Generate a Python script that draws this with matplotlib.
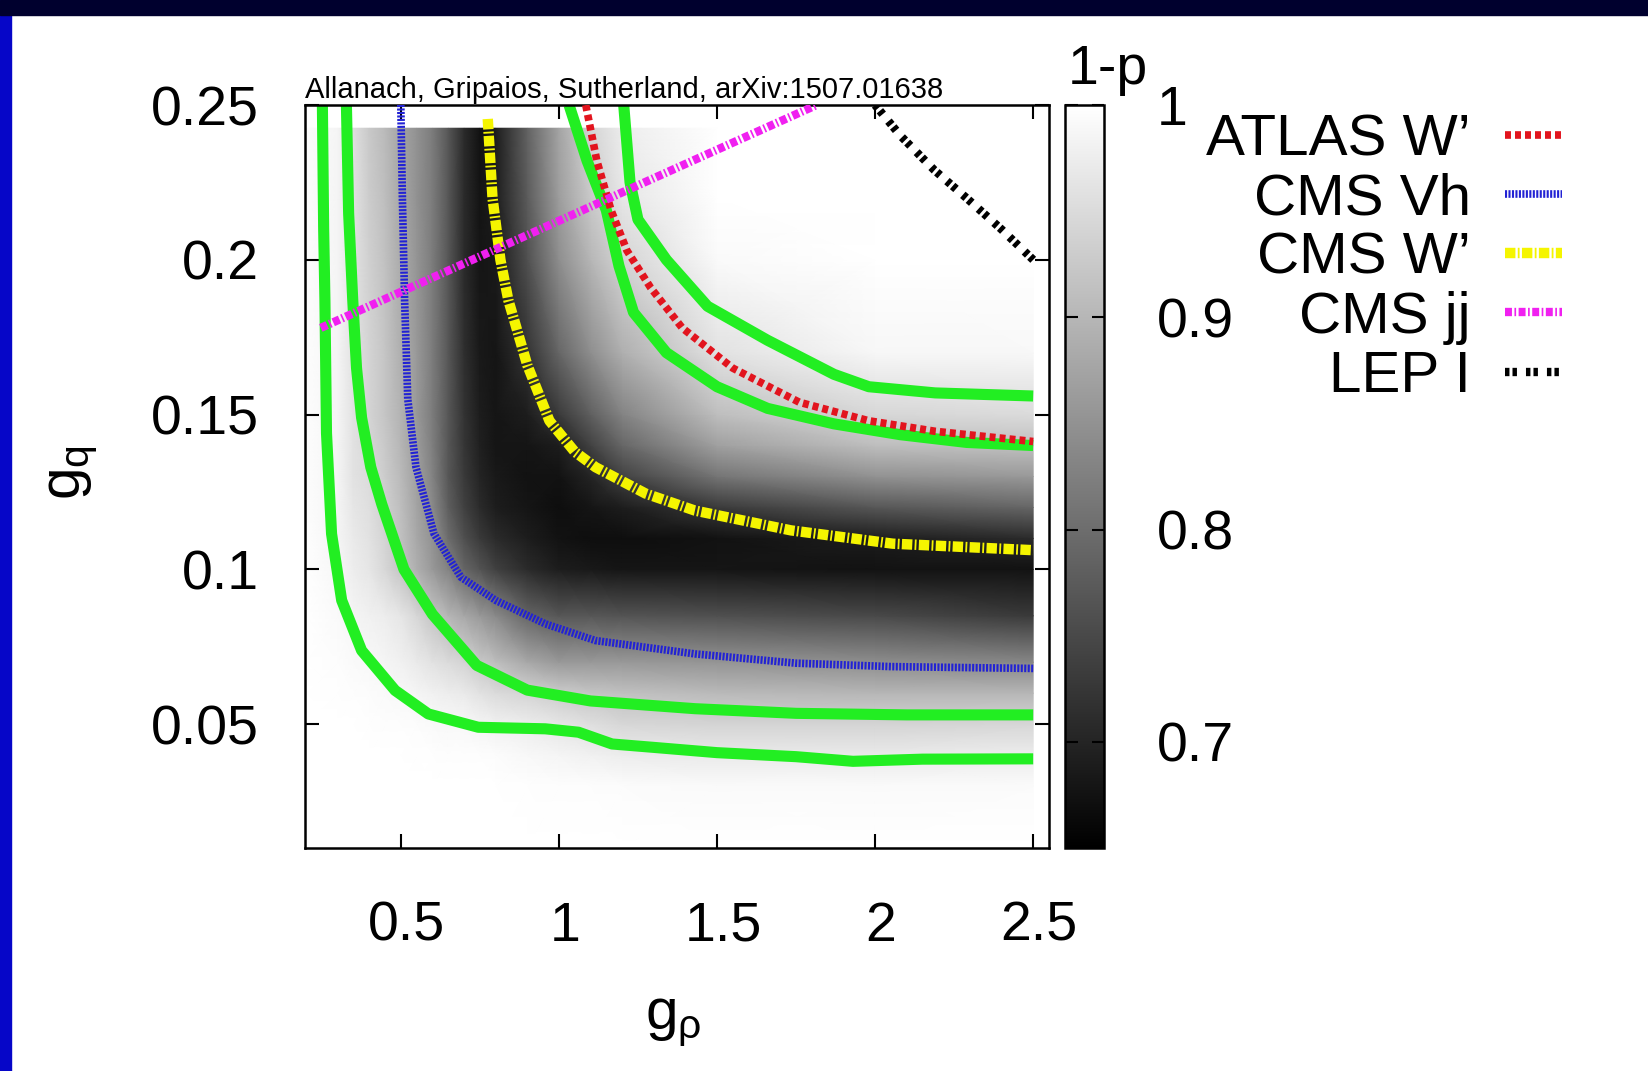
import numpy as np
import matplotlib
matplotlib.use('Agg')
import matplotlib.pyplot as plt
from matplotlib.patches import Rectangle
import matplotlib.transforms as mtransforms

plt.rcParams['font.family'] = ['Liberation Sans', 'DejaVu Sans']
plt.rcParams['mathtext.fontset'] = 'custom'
plt.rcParams['mathtext.rm'] = 'Liberation Sans'
plt.rcParams['mathtext.it'] = 'Liberation Sans'
plt.rcParams['mathtext.bf'] = 'Liberation Sans'
plt.rcParams['lines.scale_dashes'] = False

# ---------------- data ----------------
# grid of 1-p values, columns at grid_x, rows at grid_y
grid_x = [0.2, 0.3, 0.35, 0.4, 0.45, 0.5, 0.55, 0.6, 0.65, 0.7, 0.75, 0.8, 0.9, 1.0, 1.1, 1.2, 1.5, 2.0, 2.5]
grid_y = [0.01, 0.03, 0.04, 0.05, 0.06, 0.07, 0.085, 0.1, 0.11, 0.12, 0.13, 0.14, 0.15, 0.17, 0.2, 0.22, 0.2425]
one_minus_p_columns = [
    [1, 1, 1, 1, 1, 1, 0.999, 0.998, 0.998, 0.997, 0.997, 0.997, 0.997, 0.997, 0.997, 0.997, 0.997],
    [1, 1, 1, 0.999, 0.998, 0.996, 0.993, 0.988, 0.986, 0.985, 0.985, 0.985, 0.985, 0.985, 0.985, 0.985, 0.985],
    [1, 1, 1, 0.999, 0.997, 0.993, 0.985, 0.975, 0.97, 0.965, 0.96, 0.96, 0.96, 0.96, 0.96, 0.96, 0.955],
    [1, 1, 1, 0.998, 0.995, 0.99, 0.98, 0.965, 0.96, 0.955, 0.95, 0.945, 0.94, 0.94, 0.935, 0.93, 0.925],
    [1, 1, 0.999, 0.997, 0.993, 0.985, 0.975, 0.945, 0.94, 0.935, 0.93, 0.925, 0.92, 0.92, 0.915, 0.91, 0.905],
    [1, 1, 0.999, 0.996, 0.99, 0.98, 0.965, 0.92, 0.915, 0.91, 0.905, 0.9, 0.895, 0.89, 0.885, 0.88, 0.875],
    [1, 1, 0.998, 0.995, 0.985, 0.97, 0.945, 0.89, 0.88, 0.875, 0.87, 0.865, 0.86, 0.86, 0.855, 0.85, 0.85],
    [1, 1, 0.998, 0.993, 0.98, 0.96, 0.92, 0.86, 0.85, 0.84, 0.83, 0.825, 0.82, 0.82, 0.82, 0.82, 0.82],
    [1, 1, 0.997, 0.99, 0.975, 0.95, 0.9, 0.83, 0.8, 0.78, 0.77, 0.77, 0.77, 0.77, 0.77, 0.77, 0.77],
    [1, 1, 0.997, 0.99, 0.97, 0.94, 0.88, 0.79, 0.76, 0.74, 0.73, 0.725, 0.72, 0.715, 0.71, 0.71, 0.71],
    [1, 1, 0.996, 0.985, 0.96, 0.925, 0.86, 0.765, 0.73, 0.71, 0.7, 0.695, 0.69, 0.685, 0.68, 0.678, 0.675],
    [1, 1, 0.995, 0.98, 0.95, 0.91, 0.84, 0.74, 0.71, 0.69, 0.685, 0.68, 0.68, 0.68, 0.685, 0.69, 0.69],
    [1, 0.998, 0.99, 0.975, 0.94, 0.88, 0.79, 0.71, 0.69, 0.68, 0.675, 0.68, 0.69, 0.72, 0.76, 0.775, 0.785],
    [1, 0.997, 0.985, 0.965, 0.93, 0.86, 0.77, 0.69, 0.675, 0.67, 0.675, 0.69, 0.73, 0.79, 0.845, 0.865, 0.875],
    [1, 0.996, 0.98, 0.955, 0.92, 0.86, 0.77, 0.685, 0.67, 0.68, 0.7, 0.74, 0.78, 0.845, 0.9, 0.925, 0.94],
    [1, 0.995, 0.975, 0.945, 0.915, 0.86, 0.765, 0.68, 0.67, 0.69, 0.74, 0.79, 0.83, 0.89, 0.94, 0.965, 0.975],
    [1, 0.993, 0.97, 0.94, 0.905, 0.855, 0.76, 0.68, 0.675, 0.73, 0.81, 0.87, 0.91, 0.96, 0.993, 0.999, 1.0],
    [1, 0.993, 0.97, 0.94, 0.9, 0.845, 0.75, 0.675, 0.69, 0.77, 0.85, 0.91, 0.945, 0.988, 1.0, 1.0, 1.0],
    [1, 0.994, 0.975, 0.945, 0.9, 0.835, 0.73, 0.675, 0.71, 0.79, 0.86, 0.915, 0.95, 0.99, 1.0, 1.0, 1.0],
]

# contours (green)
green_low_outer_x = [0.252, 0.256, 0.26, 0.265, 0.281, 0.313, 0.376, 0.482, 0.587, 0.745, 0.957, 1.062, 1.168, 1.3, 1.5, 1.75, 1.93, 2.15, 2.5]
green_low_outer_y = [0.25, 0.21, 0.187, 0.144, 0.1115, 0.09, 0.0738, 0.0609, 0.0533, 0.049, 0.0485, 0.0474, 0.0436, 0.0425, 0.0408, 0.0395, 0.038, 0.0387, 0.0388]
green_low_inner_x = [0.328, 0.335, 0.348, 0.36, 0.376, 0.405, 0.44, 0.51, 0.6, 0.74, 0.9, 1.1, 1.43, 1.75, 2.1, 2.5]
green_low_inner_y = [0.25, 0.215, 0.187, 0.165, 0.149, 0.133, 0.121, 0.1, 0.0855, 0.069, 0.061, 0.0575, 0.055, 0.0535, 0.053, 0.053]
green_up_inner_x = [1.032, 1.089, 1.15, 1.19, 1.236, 1.34, 1.5, 1.66, 1.87, 2.08, 2.29, 2.5]
green_up_inner_y = [0.25, 0.232, 0.216, 0.198, 0.183, 0.17, 0.159, 0.152, 0.147, 0.1435, 0.141, 0.14]
green_up_outer_x = [1.205, 1.225, 1.25, 1.34, 1.47, 1.66, 1.87, 1.98, 2.19, 2.5]
green_up_outer_y = [0.25, 0.225, 0.213, 0.2, 0.185, 0.174, 0.163, 0.159, 0.157, 0.156]

# limits
atlas_w_x = [1.085, 1.12, 1.165, 1.215, 1.29, 1.39, 1.55, 1.76, 1.98, 2.19, 2.5]
atlas_w_y = [0.25, 0.232, 0.216, 0.203, 0.191, 0.178, 0.165, 0.154, 0.148, 0.1446, 0.1413]
cms_vh_x = [0.5, 0.505, 0.512, 0.522, 0.548, 0.605, 0.69, 0.8, 0.957, 1.116, 1.43, 1.75, 2.05, 2.5]
cms_vh_y = [0.25, 0.22, 0.187, 0.155, 0.133, 0.1115, 0.0975, 0.09, 0.0824, 0.077, 0.0727, 0.0697, 0.0686, 0.068]
cms_w_x = [0.775, 0.79, 0.815, 0.84, 0.9, 0.97, 1.05, 1.116, 1.274, 1.43, 1.734, 2.056, 2.5]
cms_w_y = [0.2455, 0.22, 0.2, 0.187, 0.166, 0.148, 0.138, 0.133, 0.1245, 0.119, 0.1126, 0.1083, 0.1062]
cms_jj_x = [0.247, 1.815]
cms_jj_y = [0.178, 0.25]
lep_x = [2.0, 2.081, 2.187, 2.293, 2.4, 2.5]
lep_y = [0.25, 0.24, 0.229, 0.2196, 0.2098, 0.2]

legend_labels = ["ATLAS W\u2019", "CMS Vh", "CMS W\u2019", "CMS jj", "LEP I"]
xticks = [0.5, 1.0, 1.5, 2.0, 2.5]
xtick_labels = ["0.5", "1", "1.5", "2", "2.5"]
yticks = [0.05, 0.1, 0.15, 0.2, 0.25]
ytick_labels = ["0.05", "0.1", "0.15", "0.2", "0.25"]
cbar_ticks = [0.7, 0.8, 0.9, 1.0]
cbar_tick_labels = ["0.7", "0.8", "0.9", "1"]
title_text = "Allanach, Gripaios, Sutherland, arXiv:1507.01638"

# ---------------- figure ----------------
W, H = 1649, 1071
fig = plt.figure(figsize=(W / 100, H / 100), dpi=100)
fig.patch.set_facecolor('white')
fig.patches.append(Rectangle((0, 0), 11 / W, 1, transform=fig.transFigure, color='#0606c8', zorder=-10))
fig.patches.append(Rectangle((0, 1 - 15 / H), 1, 15 / H, transform=fig.transFigure, color='#00002e', zorder=-9))

ax = fig.add_axes([305 / W, 1 - 848 / H, 744 / W, 743 / H])
X, Y = np.meshgrid(grid_x, grid_y)
Z = np.array(one_minus_p_columns).T
mesh = ax.pcolormesh(X, Y, Z, shading='gouraud', cmap='gray', vmin=0.65, vmax=1.0, zorder=0)

green = '#22ee22'
for gxs, gys in [(green_low_outer_x, green_low_outer_y), (green_low_inner_x, green_low_inner_y),
                 (green_up_inner_x, green_up_inner_y), (green_up_outer_x, green_up_outer_y)]:
    ax.plot(gxs, gys, color=green, lw=8, solid_capstyle='butt', solid_joinstyle='round', zorder=2)

l1, = ax.plot(atlas_w_x, atlas_w_y, color='#e2141e', lw=5.5, ls=(0, (4.3, 2.9)), zorder=3)
l2, = ax.plot(cms_vh_x, cms_vh_y, color='#2222d4', lw=5.5, ls=(0, (1.5, 1.0)), zorder=3)
l3, = ax.plot(cms_w_x, cms_w_y, color='#f5f500', lw=7.5, ls=(0, (7.5, 1.7, 1.3, 1.7)), zorder=3)
l4, = ax.plot(cms_jj_x, cms_jj_y, color='#f020f0', lw=6, ls=(0, (5.0, 1.8, 1.2, 1.8)), zorder=3)
l5, = ax.plot(lep_x, lep_y, color='black', lw=6, ls=(0, (3.2, 2.2, 3.2, 6.5)), zorder=3)

ax.set_xlim(0.197, 2.55)
ax.set_ylim(0.01, 0.25)
ax.set_xticks(xticks)
ax.set_xticklabels(xtick_labels)
ax.set_yticks(yticks)
ax.set_yticklabels(ytick_labels)
ax.tick_params(axis='both', direction='in', top=True, right=True, length=10, width=1.5,
               labelsize=40, colors='black')
ax.tick_params(axis='x', pad=38)
ax.tick_params(axis='y', pad=33)
for sp in ax.spines.values():
    sp.set_linewidth(1.8)
offset = mtransforms.ScaledTranslation(6 / 100, 0, fig.dpi_scale_trans)
for lab in ax.get_xticklabels():
    lab.set_transform(lab.get_transform() + offset)

ax.annotate(title_text, xy=(0, 1), xycoords='axes fraction', xytext=(0, 5),
            textcoords='offset points', ha='left', va='baseline', fontsize=21)

# colorbar
cax = fig.add_axes([1065 / W, 1 - 848 / H, 39 / W, 743 / H])
cb = fig.colorbar(mesh, cax=cax)
cb.set_ticks(cbar_ticks)
cb.set_ticklabels(cbar_tick_labels)
cb.outline.set_linewidth(1.8)
cax.yaxis.set_ticks_position('both')
cax.tick_params(direction='in', length=9, width=1.5, labelsize=40, labelleft=False,
                labelright=True, pad=38)
fig.text(1068 / W, 1 - 84 / H, '1-p', fontsize=40, ha='left', va='baseline')

# axis labels
fig.text(673 / W, 1 - 1021 / H, r'$g_\rho$', fontsize=42, ha='center', va='center')
fig.text(72 / W, 1 - 473 / H, r'$g_q$', fontsize=42, ha='center', va='center', rotation=90)

# legend
leg = fig.legend([l1, l2, l3, l4, l5], legend_labels, loc='upper right',
                 bbox_to_anchor=(1562 / W, 1 - 113 / H), bbox_transform=fig.transFigure,
                 frameon=False, markerfirst=False, fontsize=42, handlelength=0.98,
                 handletextpad=0.58, labelspacing=0.09, borderpad=0, borderaxespad=0)

fig.savefig('out.png', dpi=100)
